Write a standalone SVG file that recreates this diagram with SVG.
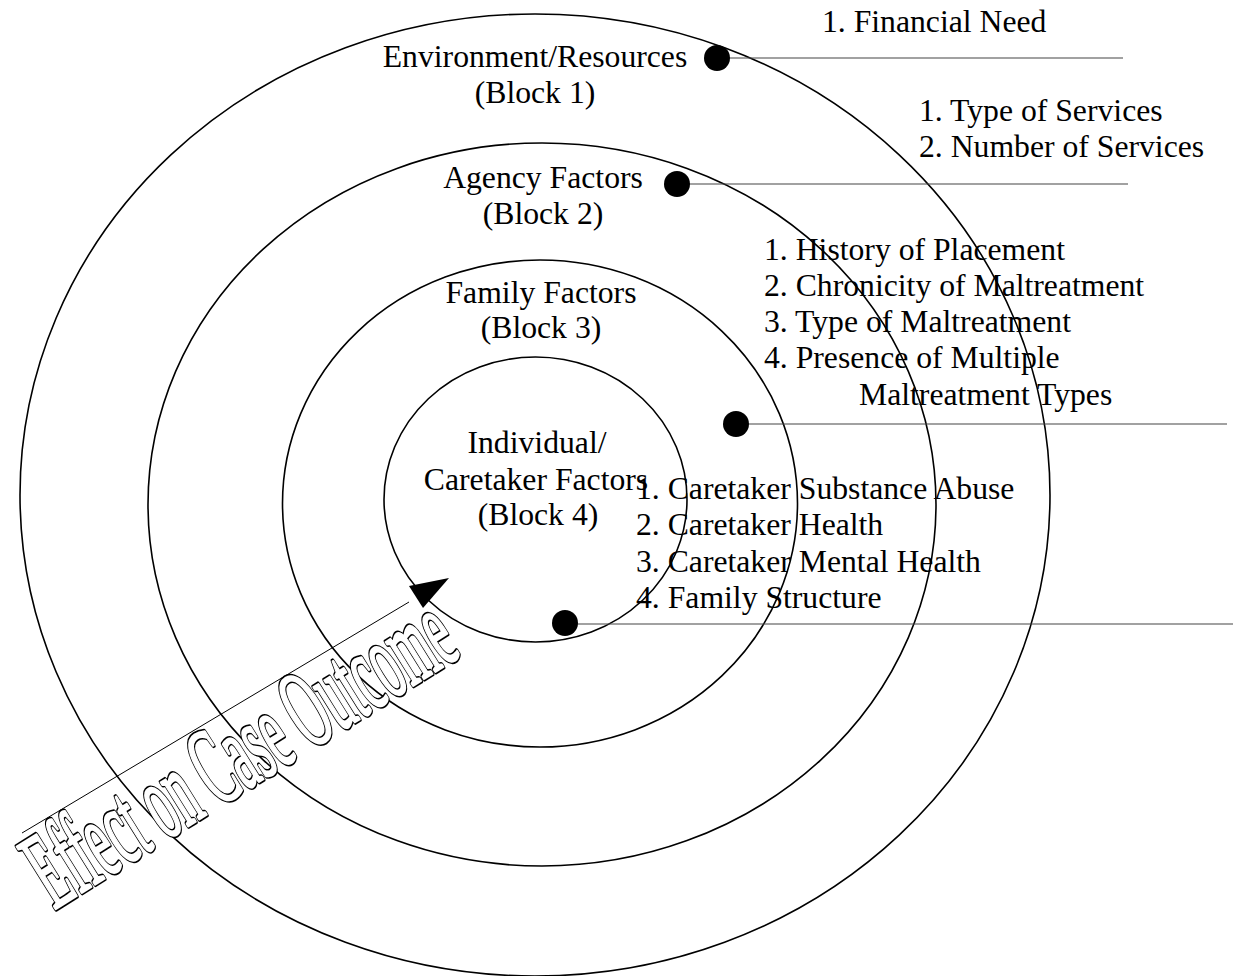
<svg xmlns="http://www.w3.org/2000/svg" width="1234" height="976" viewBox="0 0 1234 976">
<style>
.t{font-family:"Liberation Serif","Times New Roman",serif;font-size:31.7px;fill:#000}
.m{text-anchor:middle}
.ring{fill:none;stroke:#000;stroke-width:1.6}
.lead{stroke:#444;stroke-width:1.2;fill:none}
.dot{fill:#000}
.wa{font-family:"Liberation Serif","Times New Roman",serif;font-size:112px}
</style>
<rect width="1234" height="976" fill="#fff"/>
<g id="lists">
<text class="t" x="822" y="32">1. Financial Need</text>
<text class="t" x="919" y="121">1. Type of Services</text>
<text class="t" x="919" y="157">2. Number of Services</text>
<text class="t" x="764" y="260">1. History of Placement</text>
<text class="t" x="764" y="296">2. Chronicity of Maltreatment</text>
<text class="t" x="764" y="332">3. Type of Maltreatment</text>
<text class="t" x="764" y="368">4. Presence of Multiple</text>
<text class="t" x="859" y="405">Maltreatment Types</text>
<text class="t" x="636" y="499">1. Caretaker Substance Abuse</text>
<text class="t" x="636" y="535">2. Caretaker Health</text>
<text class="t" x="636" y="572">3. Caretaker Mental Health</text>
<text class="t" x="636" y="608">4. Family Structure</text>
</g>
<g id="block1">
<ellipse class="ring" cx="535" cy="495" rx="515" ry="481"/>
<text class="t m" x="535" y="67">Environment/Resources</text>
<text class="t m" x="535" y="103">(Block 1)</text>
</g>
<g id="block2">
<ellipse class="ring" cx="542" cy="504.5" rx="394" ry="361.5"/>
<text class="t m" x="543" y="188">Agency Factors</text>
<text class="t m" x="543" y="224">(Block 2)</text>
</g>
<g id="block3">
<ellipse class="ring" cx="540" cy="503.5" rx="257.5" ry="243.5"/>
<text class="t m" x="541" y="303">Family Factors</text>
<text class="t m" x="541" y="338">(Block 3)</text>
</g>
<g id="block4">
<ellipse class="ring" cx="535.5" cy="499.5" rx="151.5" ry="142.5"/>
<text class="t m" x="537" y="453">Individual/</text>
<text class="t m" x="536" y="490">Caretaker Factors</text>
<text class="t m" x="538" y="525">(Block 4)</text>
</g>
<g id="connectors">
<line class="lead" x1="717" y1="58" x2="1123" y2="58"/>
<line class="lead" x1="677" y1="184" x2="1128" y2="184"/>
<line class="lead" x1="736" y1="424" x2="1227" y2="424"/>
<line class="lead" x1="565" y1="624" x2="1233" y2="624"/>
<circle class="dot" cx="717" cy="58" r="13"/>
<circle class="dot" cx="677" cy="184" r="13"/>
<circle class="dot" cx="736" cy="424" r="13"/>
<circle class="dot" cx="565" cy="623" r="13"/>
<line x1="22" y1="833" x2="409" y2="602" stroke="#000" stroke-width="1"/>
<path d="M449,578 L409,586 L423,608 Z" fill="#000"/>
</g>
<g id="effect" transform="translate(54,910) rotate(-32) scale(0.44,1)">
<text class="wa" x="0" y="0" fill="#fff" stroke="#000" stroke-width="4.4" vector-effect="non-scaling-stroke" stroke-linejoin="round">Effect on Case Outcome</text>
<text class="wa" x="0" y="0" fill="#fff" stroke="#fff" stroke-width="1.8" vector-effect="non-scaling-stroke" stroke-linejoin="round">Effect on Case Outcome</text>
</g>
</svg>
